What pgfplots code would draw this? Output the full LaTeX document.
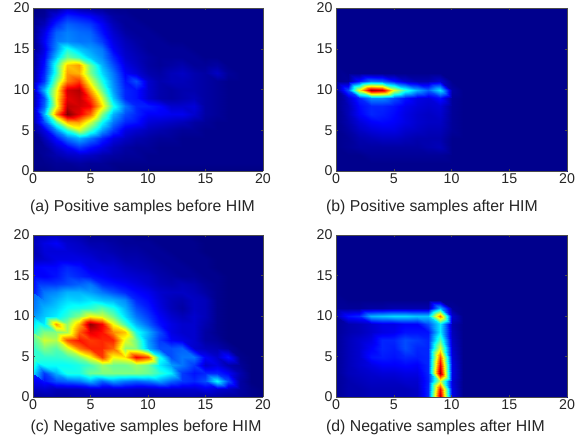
\documentclass[border=0pt]{standalone}
\usepackage{pgfplots}
\pgfplotsset{compat=1.18}
\usepackage{fontspec}
\setmainfont{Liberation Sans}
\pgfplotsset{
  colormap={matjet}{rgb=(0,0,0.47) rgb=(0,0,1) rgb=(0,0.5,1) rgb=(0,1,1) rgb=(0.5,1,0.5) rgb=(1,1,0) rgb=(1,0.5,0) rgb=(1,0,0) rgb=(0.5,0,0)},
  hm/.style={
    scale only axis, anchor=south west, width=230pt, height=163pt,
    view={0}{90}, xmin=0, xmax=20, ymin=0, ymax=20,
    xtick={0,5,10,15,20}, ytick={0,5,10,15,20},
    tick align=inside, major tick length=2pt,
    tick style={black!70,thin}, axis line style={black!70,thin},
    tick label style={font=\fontsize{14.2}{15}\selectfont,text=black!85},
    xticklabel style={yshift=1pt}, yticklabel style={xshift=0pt},
    /pgf/number format/assume math mode=true,
    point meta min=0, point meta max=100, colormap name=matjet, axis on top,
  },
  hp/.style={surf, shader=interp, mesh/cols=21, mesh/ordering=x varies},
  table/hq/.style={row sep=crcr, header=false, x expr={mod(\coordindex,21)}, y expr={20-floor(\coordindex/21)}, z index=0},
}
\begin{document}
\begin{tikzpicture}[x=1pt,y=1pt]
\useasboundingbox (0,0) rectangle (584,440);
\begin{axis}[hm, at={(33pt,269pt)}]
\addplot3[hp] table[hq] {
1\\2\\3\\8\\5\\4\\3\\2\\2\\2\\2\\2\\2\\2\\2\\2\\2\\2\\2\\2\\2\\
2\\3\\10\\16\\14\\12\\8\\4\\3\\2\\2\\2\\2\\2\\2\\2\\2\\2\\2\\2\\2\\
2\\6\\16\\22\\20\\18\\12\\6\\3\\3\\2\\2\\2\\2\\2\\2\\2\\2\\2\\2\\2\\
2\\10\\22\\25\\23\\22\\14\\8\\4\\3\\3\\2\\2\\2\\2\\2\\2\\2\\2\\2\\2\\
2\\12\\24\\26\\24\\24\\18\\10\\6\\4\\3\\3\\2\\2\\2\\2\\2\\2\\2\\2\\2\\
2\\10\\26\\40\\32\\28\\24\\12\\7\\5\\3\\3\\3\\3\\2\\2\\2\\2\\2\\2\\2\\
3\\12\\32\\48\\42\\32\\26\\16\\8\\6\\4\\3\\3\\3\\3\\2\\2\\2\\2\\2\\2\\
3\\14\\42\\68\\72\\48\\30\\20\\10\\7\\4\\3\\4\\5\\3\\3\\4\\2\\2\\2\\2\\
3\\16\\42\\72\\70\\50\\34\\24\\12\\9\\5\\4\\6\\7\\5\\4\\7\\3\\2\\2\\2\\
4\\18\\50\\75\\82\\60\\40\\26\\14\\20\\8\\5\\6\\6\\5\\4\\3\\2\\2\\2\\2\\
6\\30\\60\\92\\95\\72\\48\\28\\16\\14\\8\\5\\4\\5\\5\\4\\3\\2\\2\\2\\2\\
4\\20\\62\\90\\93\\82\\58\\32\\16\\14\\8\\5\\4\\5\\6\\4\\3\\2\\2\\2\\2\\
4\\22\\60\\94\\92\\88\\65\\40\\24\\16\\15\\13\\8\\8\\9\\4\\3\\2\\2\\2\\2\\
6\\30\\75\\100\\90\\78\\50\\30\\20\\16\\12\\12\\11\\11\\8\\4\\3\\2\\2\\2\\2\\
4\\20\\45\\70\\72\\58\\38\\24\\16\\14\\9\\8\\7\\6\\4\\3\\2\\2\\2\\2\\2\\
3\\10\\26\\42\\58\\44\\28\\18\\10\\8\\6\\5\\4\\3\\3\\2\\2\\2\\2\\2\\2\\
2\\6\\14\\24\\30\\24\\16\\10\\7\\5\\4\\3\\3\\2\\2\\2\\2\\2\\2\\2\\2\\
2\\3\\8\\12\\18\\14\\10\\6\\4\\3\\3\\2\\2\\2\\2\\2\\2\\2\\2\\2\\2\\
2\\3\\5\\7\\8\\7\\5\\4\\3\\3\\2\\2\\2\\2\\2\\2\\2\\2\\2\\2\\2\\
2\\2\\3\\3\\4\\3\\3\\2\\2\\2\\2\\2\\2\\2\\2\\2\\2\\2\\2\\2\\2\\
1\\1\\2\\2\\2\\2\\2\\2\\1\\1\\1\\1\\1\\1\\1\\1\\1\\1\\1\\1\\1\\
};
\end{axis}
\begin{axis}[hm, at={(336pt,269pt)}, width=231pt]
\addplot3[hp] table[hq] {
2\\2\\2\\2\\2\\2\\2\\2\\2\\2\\2\\2\\2\\2\\2\\2\\2\\2\\2\\2\\2\\
2\\2\\2\\2\\2\\2\\2\\2\\2\\2\\2\\2\\2\\2\\2\\2\\2\\2\\2\\2\\2\\
2\\2\\2\\2\\2\\2\\2\\2\\2\\2\\2\\2\\2\\2\\2\\2\\2\\2\\2\\2\\2\\
2\\2\\2\\2\\2\\2\\2\\2\\2\\2\\2\\2\\2\\2\\2\\2\\2\\2\\2\\2\\2\\
2\\2\\2\\2\\2\\2\\2\\2\\2\\2\\2\\2\\2\\2\\2\\2\\2\\2\\2\\2\\2\\
2\\2\\2\\2\\2\\2\\2\\2\\2\\2\\2\\2\\2\\2\\2\\2\\2\\2\\2\\2\\2\\
2\\2\\2\\2\\2\\2\\2\\2\\2\\2\\2\\2\\2\\2\\2\\2\\2\\2\\2\\2\\2\\
2\\2\\2\\2\\2\\2\\2\\2\\2\\2\\2\\2\\2\\2\\2\\2\\2\\2\\2\\2\\2\\
2\\2\\2\\2\\2\\2\\2\\2\\2\\2\\2\\2\\2\\2\\2\\2\\2\\2\\2\\2\\2\\
2\\3\\14\\24\\22\\14\\8\\5\\5\\8\\2\\2\\2\\2\\2\\2\\2\\2\\2\\2\\2\\
3\\20\\62\\97\\93\\60\\42\\30\\22\\35\\4\\2\\2\\2\\2\\2\\2\\2\\2\\2\\2\\
2\\8\\16\\26\\26\\20\\14\\10\\9\\14\\3\\2\\2\\2\\2\\2\\2\\2\\2\\2\\2\\
2\\6\\13\\16\\16\\14\\11\\9\\8\\9\\3\\2\\2\\2\\2\\2\\2\\2\\2\\2\\2\\
2\\6\\12\\16\\15\\13\\10\\8\\7\\8\\3\\2\\2\\2\\2\\2\\2\\2\\2\\2\\2\\
2\\5\\9\\12\\13\\12\\10\\8\\7\\7\\3\\2\\2\\2\\2\\2\\2\\2\\2\\2\\2\\
2\\4\\7\\9\\10\\10\\8\\7\\6\\6\\3\\2\\2\\2\\2\\2\\2\\2\\2\\2\\2\\
2\\3\\5\\6\\7\\7\\6\\5\\5\\5\\2\\2\\2\\2\\2\\2\\2\\2\\2\\2\\2\\
2\\3\\4\\4\\4\\4\\4\\4\\5\\6\\2\\2\\2\\2\\2\\2\\2\\2\\2\\2\\2\\
2\\2\\2\\3\\3\\3\\3\\3\\3\\3\\2\\2\\2\\2\\2\\2\\2\\2\\2\\2\\2\\
2\\2\\2\\2\\2\\2\\2\\2\\2\\2\\2\\2\\2\\2\\2\\2\\2\\2\\2\\2\\2\\
2\\2\\2\\2\\2\\2\\2\\2\\2\\2\\2\\2\\2\\2\\2\\2\\2\\2\\2\\2\\2\\
};
\end{axis}
\begin{axis}[hm, at={(33pt,43pt)}, height=162pt]
\addplot3[hp] table[hq] {
5\\6\\7\\6\\5\\3\\3\\3\\3\\2\\2\\2\\2\\2\\1\\1\\1\\1\\1\\1\\1\\
6\\10\\12\\8\\7\\5\\5\\4\\3\\3\\3\\2\\2\\2\\2\\1\\1\\1\\1\\1\\1\\
5\\9\\9\\9\\8\\7\\6\\5\\4\\4\\3\\3\\2\\2\\2\\1\\1\\1\\1\\1\\1\\
7\\8\\10\\10\\10\\9\\7\\7\\5\\5\\4\\3\\3\\2\\2\\2\\1\\1\\1\\1\\1\\
12\\13\\13\\16\\14\\10\\10\\9\\7\\6\\5\\4\\3\\3\\2\\2\\1\\1\\1\\1\\1\\
13\\12\\14\\18\\16\\14\\12\\10\\9\\8\\7\\5\\4\\3\\3\\2\\2\\1\\1\\1\\1\\
12\\18\\18\\20\\22\\24\\16\\14\\12\\10\\8\\6\\5\\6\\5\\3\\2\\1\\1\\1\\1\\
14\\24\\26\\30\\30\\28\\24\\20\\16\\13\\11\\8\\7\\7\\6\\4\\2\\1\\1\\1\\1\\
22\\26\\30\\34\\33\\35\\32\\30\\26\\16\\13\\9\\6\\5\\7\\6\\2\\1\\1\\1\\1\\
24\\30\\33\\38\\40\\42\\46\\40\\30\\20\\15\\10\\6\\4\\7\\6\\2\\1\\1\\1\\1\\
27\\32\\36\\42\\50\\62\\58\\48\\34\\24\\18\\12\\8\\6\\8\\6\\2\\1\\1\\1\\1\\
30\\36\\72\\52\\70\\98\\88\\62\\44\\30\\22\\14\\10\\8\\8\\5\\2\\1\\1\\1\\1\\
40\\50\\50\\54\\78\\90\\86\\74\\68\\40\\30\\20\\10\\8\\8\\4\\2\\1\\1\\1\\1\\
50\\58\\55\\80\\86\\82\\84\\84\\60\\48\\28\\18\\12\\10\\8\\4\\3\\1\\1\\1\\1\\
42\\50\\46\\58\\76\\84\\84\\78\\52\\50\\30\\20\\20\\22\\8\\6\\5\\3\\1\\1\\1\\
42\\42\\42\\44\\50\\62\\82\\62\\65\\88\\80\\40\\20\\24\\24\\12\\8\\14\\2\\1\\1\\
48\\38\\38\\38\\40\\44\\52\\48\\48\\52\\48\\36\\28\\24\\18\\8\\10\\5\\3\\1\\1\\
35\\18\\30\\40\\40\\48\\50\\50\\50\\50\\48\\42\\36\\18\\14\\16\\16\\12\\5\\1\\1\\
16\\14\\20\\22\\24\\30\\22\\28\\24\\22\\24\\28\\22\\18\\16\\20\\38\\20\\4\\1\\1\\
7\\8\\6\\6\\6\\8\\8\\8\\8\\7\\7\\8\\8\\8\\8\\10\\8\\7\\4\\2\\1\\
3\\4\\4\\4\\5\\5\\5\\5\\5\\5\\5\\5\\5\\5\\5\\4\\4\\3\\3\\2\\1\\
};
\end{axis}
\begin{axis}[hm, at={(336pt,43pt)}, width=231pt, height=162pt]
\addplot3[hp] table[hq] {
2\\2\\2\\2\\2\\2\\2\\2\\2\\2\\2\\2\\2\\2\\2\\2\\2\\2\\2\\2\\2\\
2\\2\\2\\2\\2\\2\\2\\2\\2\\2\\2\\2\\2\\2\\2\\2\\2\\2\\2\\2\\2\\
2\\2\\2\\2\\2\\2\\2\\2\\2\\2\\2\\2\\2\\2\\2\\2\\2\\2\\2\\2\\2\\
2\\2\\2\\2\\2\\2\\2\\2\\2\\2\\2\\2\\2\\2\\2\\2\\2\\2\\2\\2\\2\\
2\\2\\2\\2\\2\\2\\2\\2\\2\\2\\2\\2\\2\\2\\2\\2\\2\\2\\2\\2\\2\\
2\\2\\2\\2\\2\\2\\2\\2\\2\\2\\2\\2\\2\\2\\2\\2\\2\\2\\2\\2\\2\\
2\\2\\2\\2\\2\\2\\2\\2\\2\\2\\2\\2\\2\\2\\2\\2\\2\\2\\2\\2\\2\\
2\\2\\2\\2\\2\\2\\2\\2\\2\\2\\2\\2\\2\\2\\2\\2\\2\\2\\2\\2\\2\\
2\\2\\2\\2\\2\\2\\2\\2\\2\\2\\2\\2\\2\\2\\2\\2\\2\\2\\2\\2\\2\\
3\\3\\3\\4\\4\\5\\5\\5\\5\\30\\3\\2\\2\\2\\2\\2\\2\\2\\2\\2\\2\\
6\\14\\16\\30\\32\\34\\34\\32\\32\\76\\8\\2\\2\\2\\2\\2\\2\\2\\2\\2\\2\\
3\\5\\6\\8\\10\\10\\12\\12\\20\\36\\5\\2\\2\\2\\2\\2\\2\\2\\2\\2\\2\\
3\\5\\6\\8\\10\\11\\14\\14\\14\\36\\6\\2\\2\\2\\2\\2\\2\\2\\2\\2\\2\\
3\\6\\8\\10\\16\\16\\20\\18\\16\\46\\7\\2\\2\\2\\2\\2\\2\\2\\2\\2\\2\\
3\\6\\8\\12\\16\\15\\20\\16\\16\\60\\8\\2\\2\\2\\2\\2\\2\\2\\2\\2\\2\\
3\\6\\8\\14\\15\\14\\16\\15\\16\\80\\9\\2\\2\\2\\2\\2\\2\\2\\2\\2\\2\\
3\\6\\8\\10\\12\\12\\13\\12\\16\\90\\10\\2\\2\\2\\2\\2\\2\\2\\2\\2\\2\\
3\\6\\7\\8\\9\\9\\10\\10\\16\\98\\10\\2\\2\\2\\2\\2\\2\\2\\2\\2\\2\\
3\\5\\6\\7\\7\\7\\8\\8\\15\\58\\9\\2\\2\\2\\2\\2\\2\\2\\2\\2\\2\\
3\\5\\5\\6\\6\\6\\6\\7\\16\\88\\10\\2\\2\\2\\2\\2\\2\\2\\2\\2\\2\\
3\\5\\5\\6\\6\\6\\6\\7\\16\\96\\10\\2\\2\\2\\2\\2\\2\\2\\2\\2\\2\\
};
\end{axis}
\def\capf{\fontsize{15.8}{18}\selectfont}
\node[font=\capf,text=black!85] at (142.5,233) {(a) Positive samples before HIM};
\node[font=\capf,text=black!85] at (432,233) {(b) Positive samples after HIM};
\node[font=\capf,text=black!85] at (146,12.5) {(c) Negative samples before HIM};
\node[font=\capf,text=black!85] at (435.5,12.5) {(d) Negative samples after HIM};
\end{tikzpicture}
\end{document}
